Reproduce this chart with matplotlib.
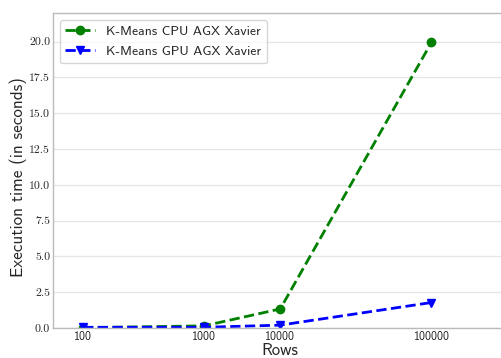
import matplotlib
matplotlib.use("Agg")
import matplotlib.pyplot as plt
import seaborn as sns

# Data
rows_labels = ["100", "1000", "10000", "100000"]
rows_pos = [0, 1, 1.63, 2.88]
cpu_times = [0.02, 0.15, 1.33, 19.95]
gpu_times = [0.05, 0.05, 0.2, 1.78]

sns.set_style("whitegrid")
plt.rcParams['font.family'] = ['cmss10', 'DejaVu Sans']
plt.rcParams['axes.unicode_minus'] = False

fig = plt.figure(figsize=(5.02, 3.58), dpi=100)
ax = fig.add_axes([53 / 502, 30 / 358, (506 - 53) / 502, 315 / 358])

ax.plot(rows_pos, cpu_times, linestyle="--", marker="o", color="green",
        linewidth=2, markersize=6, label="K-Means CPU AGX Xavier")
ax.plot(rows_pos, gpu_times, linestyle="--", marker="v", color="blue",
        linewidth=2, markersize=6, label="K-Means GPU AGX Xavier")

ax.set_xticks(rows_pos)
ax.set_xticklabels(rows_labels, fontsize=8.5)
ax.set_xlim(-0.248, (506 - 83) / 121)
ax.set_ylim(0, 22.0)
ax.set_yticks([0, 2.5, 5, 7.5, 10, 12.5, 15, 17.5, 20])
ax.set_yticklabels(["%.1f" % v for v in ax.get_yticks()], family="cmr10", fontsize=8.5)
ax.tick_params(axis="both", length=0, pad=2)

ax.grid(axis="x", visible=False)
ax.grid(axis="y", color="#e6e6e6", linewidth=0.9)
for s in ["left", "bottom", "top"]:
    ax.spines[s].set_color("#bbbbbb")
    ax.spines[s].set_linewidth(1.0)
ax.spines["right"].set_visible(False)

ax.set_xlabel("Rows", fontsize=12, labelpad=0)
ax.set_ylabel("Execution time (in seconds)", fontsize=12.3)
ax.yaxis.set_label_coords(-0.058, 0.479)

ax.legend(loc="upper left", fontsize=9.8, frameon=True, borderaxespad=0.5,
          handlelength=2.2, handletextpad=0.8, labelspacing=0.55)

fig.savefig("out.png", dpi=100)
